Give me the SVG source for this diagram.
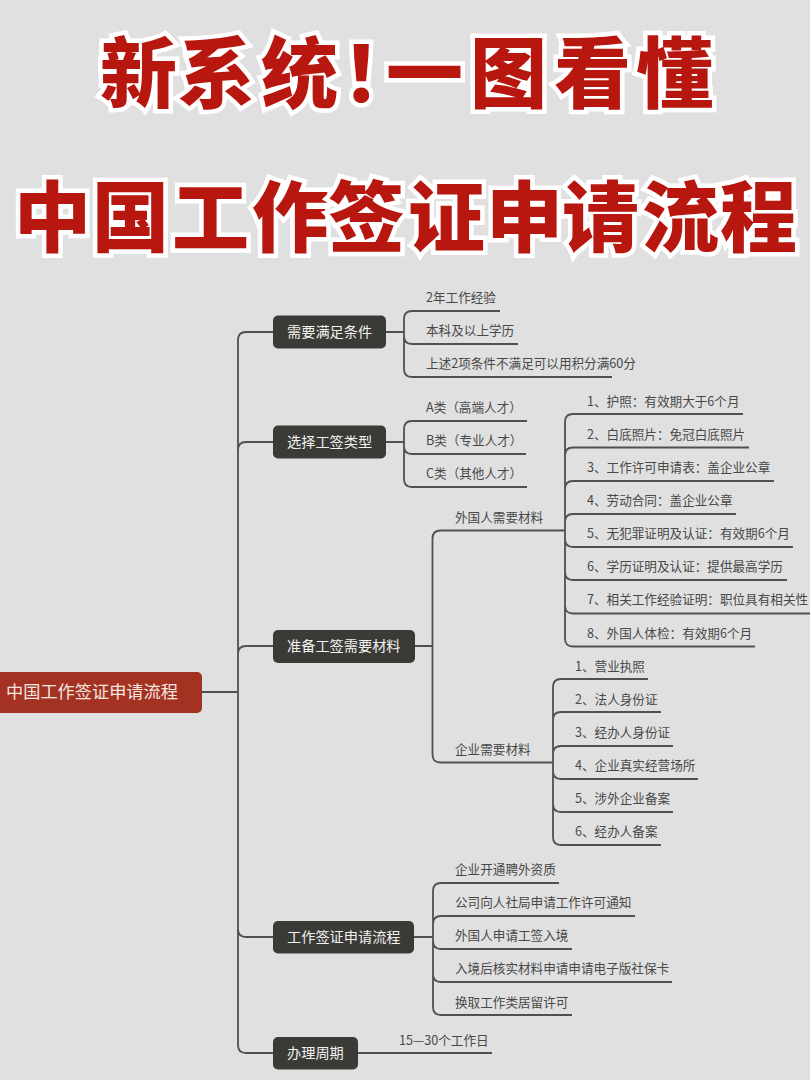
<svg xmlns="http://www.w3.org/2000/svg" width="810" height="1080" viewBox="0 0 810 1080">
<style>
text{font-family:"Noto Sans CJK SC","Noto Sans",sans-serif}
.title{font-size:77px;font-weight:900;fill:#b8170f;stroke:#fff;stroke-width:9px;stroke-linejoin:miter;stroke-miterlimit:3;paint-order:stroke}
.box{fill:#3a3a36}
.main{font-size:14.2px;fill:#f2f2f0}
.root{font-size:17.2px;fill:#f6e6e0}
.leaf{font-size:12.6px;fill:#484848}
.c{fill:none;stroke:#505050;stroke-width:1.8}
</style>
<rect width="810" height="1080" fill="#e0e0e0"/>
<g id="title">
<text class="title" y="102" x="100 178 261 342 386 470 554 636">新系统！一图看懂</text>
<text class="title" y="246" x="14 92 172 252 328 408 486 562 642 720">中国工作签证申请流程</text>
</g>
<g id="connectors">
<path class="c" d="M202 692H238M273 332H246Q238 332 238 340V1045Q238 1053 246 1053H273M273 442H246Q238 442 238 450M273 646H246Q238 646 238 654M273 937H246Q238 937 238 929"/>
<path class="c" d="M386 332H404M500 311H412Q404 311 404 319V369Q404 377 412 377H612M518 344H412Q404 344 404 336"/>
<path class="c" d="M386 442H404M527 421H412Q404 421 404 429V479Q404 487 412 487H527M526 454H412Q404 454 404 446"/>
<path class="c" d="M415 646H432.500M565 530.500H440.500Q432.500 530.500 432.500 538.500V754.500Q432.500 762.500 440.500 762.500H553"/>
<path class="c" d="M743 414H573Q565 414 565 422V638.500Q565 646.500 573 646.500H755M749 447.500H573Q565 447.500 565 455.500M774 481H573Q565 481 565 489M736 514H573Q565 514 565 522M793 547H573Q565 547 565 539M787 580H573Q565 580 565 572M810 613.500H573Q565 613.500 565 605.500"/>
<path class="c" d="M648 679H561Q553 679 553 687V837Q553 845 561 845H661M661 712H561Q553 712 553 720M673 746H561Q553 746 553 754M698 779H561Q553 779 553 771M673 812H561Q553 812 553 804"/>
<path class="c" d="M414 937H433M559 883H441Q433 883 433 891V1007Q433 1015 441 1015H572M635 916H441Q433 916 433 924M572 949H441Q433 949 433 941M672 982H441Q433 982 433 974"/>
<path class="c" d="M358 1053H492"/>
</g>
<g id="root"><rect x="-6" y="672" width="208" height="41" rx="5" fill="#a33223"/><text class="root" x="6" y="697.500">中国工作签证申请流程</text></g>
<g id="n1"><rect class="box" x="273" y="315.500" width="113" height="33" rx="5"/><text class="main" x="287" y="336.500">需要满足条件</text></g>
<g id="n2"><rect class="box" x="273" y="425.500" width="113" height="33" rx="5"/><text class="main" x="287" y="446.500">选择工签类型</text></g>
<g id="n3"><rect class="box" x="273" y="630" width="142" height="33" rx="5"/><text class="main" x="287" y="650.500">准备工签需要材料</text></g>
<g id="n4"><rect class="box" x="273" y="921" width="141" height="32.500" rx="5"/><text class="main" x="287" y="941.500">工作签证申请流程</text></g>
<g id="n5"><rect class="box" x="273" y="1037" width="85" height="32.500" rx="5"/><text class="main" x="287" y="1057.500">办理周期</text></g>
<g id="n1-1"><text class="leaf" x="426" y="302">2年工作经验</text></g>
<g id="n1-2"><text class="leaf" x="426" y="335">本科及以上学历</text></g>
<g id="n1-3"><text class="leaf" x="426" y="368">上述2项条件不满足可以用积分满60分</text></g>
<g id="n2-1"><text class="leaf" x="426" y="412">A类（高端人才）</text></g>
<g id="n2-2"><text class="leaf" x="426" y="445">B类（专业人才）</text></g>
<g id="n2-3"><text class="leaf" x="426" y="478">C类（其他人才）</text></g>
<g id="n3-1"><text class="leaf" x="455" y="522">外国人需要材料</text></g>
<g id="n3-2"><text class="leaf" x="455" y="754">企业需要材料</text></g>
<g id="a1"><text class="leaf" x="587" y="406">1、护照：有效期大于6个月</text></g>
<g id="a2"><text class="leaf" x="587" y="439">2、白底照片：免冠白底照片</text></g>
<g id="a3"><text class="leaf" x="587" y="472">3、工作许可申请表：盖企业公章</text></g>
<g id="a4"><text class="leaf" x="587" y="505">4、劳动合同：盖企业公章</text></g>
<g id="a5"><text class="leaf" x="587" y="538">5、无犯罪证明及认证：有效期6个月</text></g>
<g id="a6"><text class="leaf" x="587" y="571">6、学历证明及认证：提供最高学历</text></g>
<g id="a7"><text class="leaf" x="587" y="604">7、相关工作经验证明：职位具有相关性</text></g>
<g id="a8"><text class="leaf" x="587" y="638">8、外国人体检：有效期6个月</text></g>
<g id="b1"><text class="leaf" x="575" y="671">1、营业执照</text></g>
<g id="b2"><text class="leaf" x="575" y="704">2、法人身份证</text></g>
<g id="b3"><text class="leaf" x="575" y="737">3、经办人身份证</text></g>
<g id="b4"><text class="leaf" x="575" y="770">4、企业真实经营场所</text></g>
<g id="b5"><text class="leaf" x="575" y="803">5、涉外企业备案</text></g>
<g id="b6"><text class="leaf" x="575" y="836">6、经办人备案</text></g>
<g id="c1"><text class="leaf" x="455" y="874">企业开通聘外资质</text></g>
<g id="c2"><text class="leaf" x="455" y="907">公司向人社局申请工作许可通知</text></g>
<g id="c3"><text class="leaf" x="455" y="940">外国人申请工签入境</text></g>
<g id="c4"><text class="leaf" x="455" y="973">入境后核实材料申请申请电子版社保卡</text></g>
<g id="c5"><text class="leaf" x="455" y="1007">换取工作类居留许可</text></g>
<g id="d1"><text class="leaf" x="399" y="1045">15—30个工作日</text></g>
</svg>
